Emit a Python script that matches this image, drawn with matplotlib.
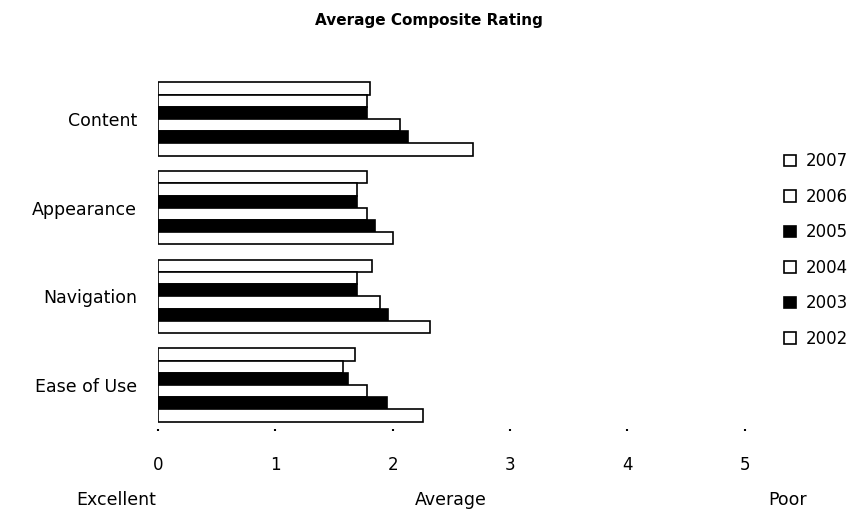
import matplotlib
matplotlib.use('Agg')
import matplotlib.pyplot as plt
import numpy as np

plt.rcParams['font.family'] = ['DejaVu Sans']

categories = ['Content', 'Appearance', 'Navigation', 'Ease of Use']
years = ['2007', '2006', '2005', '2004', '2003', '2002']
# average rating per category, one list per survey year
r2007 = [1.81, 1.78, 1.82, 1.68]
r2006 = [1.78, 1.70, 1.70, 1.58]
r2005 = [1.78, 1.70, 1.70, 1.62]
r2004 = [2.06, 1.78, 1.89, 1.78]
r2003 = [2.13, 1.85, 1.96, 1.95]
r2002 = [2.68, 2.00, 2.32, 2.26]
ratings = [r2007, r2006, r2005, r2004, r2003, r2002]
fills = ['white', 'white', 'black', 'white', 'black', 'white']
x_ticks = [0, 1, 2, 3, 4, 5]
scale_words = ['Excellent', 'Average', 'Poor']

fig = plt.figure(figsize=(8.58, 5.15), dpi=100)
ax = fig.add_axes([0.1841, 0.1664, 0.684, 0.6885])

n = len(years)
h = 0.1375
ypos = np.arange(len(categories))[::-1]  # Content at top
handles = []
for i, (yr, vals, fc) in enumerate(zip(years, ratings, fills)):
    off = (n / 2 - i - 0.5) * h
    b = ax.barh(ypos + off, vals, height=h, color=fc, edgecolor='black',
                linewidth=1.2, label=yr)
    handles.append(b)

ax.set_xlim(0, 5)
ax.set_ylim(-0.5, 3.5)
ax.set_xticks(x_ticks)
ax.set_xticklabels([str(t) for t in x_ticks], fontsize=12)
ax.set_yticks(ypos)
ax.set_yticklabels(categories, fontsize=12.5)
ax.tick_params(axis='x', length=1.5, width=1.5, pad=18)
ax.tick_params(axis='y', length=0, pad=15)
for s in ax.spines.values():
    s.set_visible(False)

fig.text(0.5, 0.961, 'Average Composite Rating', ha='center', va='center',
         fontsize=11, fontweight='bold')

fig.legend(handles=handles, labels=years, loc='center left',
           bbox_to_anchor=(0.906, 1 - 250 / 515), frameon=False,
           fontsize=12, handlelength=0.7, handleheight=0.7,
           handletextpad=0.6, labelspacing=1.05, borderaxespad=0)

for word, xc in zip(scale_words, [116, 451, 788]):
    fig.text(xc / 858, 1 - 500 / 515, word, ha='center', va='center',
             fontsize=12.5)

fig.savefig('out.png', dpi=100)
